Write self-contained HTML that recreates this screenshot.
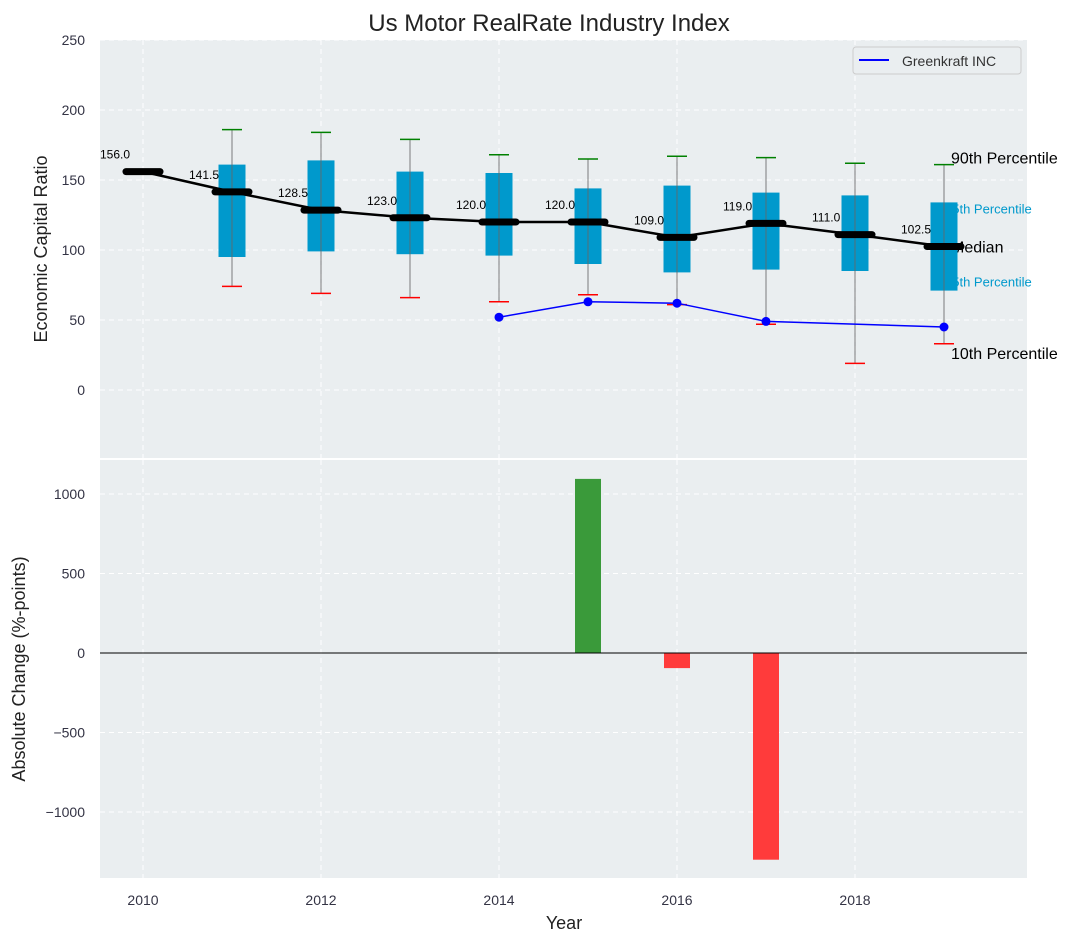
<!DOCTYPE html>
<html><head><meta charset="utf-8"><style>
body{margin:0;background:#fff;}
svg text{font-family:"Liberation Sans","DejaVu Sans",sans-serif;}
</style></head><body>
<svg id="c" width="1085" height="942" xmlns="http://www.w3.org/2000/svg">
<text x="549" y="31" font-size="24" text-anchor="middle" fill="#222">Us Motor RealRate Industry Index</text>
<rect x="100" y="40" width="927" height="418" fill="#eaeef0"/>
<rect x="100" y="460" width="927" height="418" fill="#eaeef0"/>
<g id="gtop"></g><g id="gbot"></g>
<text x="564" y="929" font-size="18" text-anchor="middle" fill="#222">Year</text>
<text transform="translate(47,249) rotate(-90)" font-size="18" text-anchor="middle" fill="#222">Economic Capital Ratio</text>
<text transform="translate(25,669) rotate(-90)" font-size="18" text-anchor="middle" fill="#222">Absolute Change (%-points)</text>
<g>
<rect x="853" y="47" width="168" height="27" rx="3" fill="#eaeef0" stroke="#ccc"/>
<line x1="859" y1="60" x2="889" y2="60" stroke="#0000ff" stroke-width="2"/>
<text x="902" y="66" font-size="14" fill="#333">Greenkraft INC</text>
</g>
</svg>
<script>
const years=[2010,2011,2012,2013,2014,2015,2016,2017,2018,2019];
const medians=[156,141.5,128.5,123,120,120,109,119,111,102.5];
const q1=[null,95,99,97,96,90,84,86,85,71];
const q3=[null,161,164,156,155,144,146,141,139,134];
const p10=[null,74,69,66,63,68,61,47,19,33];
const p90=[null,186,184,179,168,165,167,166,162,161];
const gkYears=[2014,2015,2016,2017,2019];
const gkVals=[52,63,62,49,45];
const chgYears=[2015,2016,2017];
const chgVals=[1095,-95,-1300];
const topTicks=[0,50,100,150,200,250];
const botTicks=[-1000,-500,0,500,1000];
const xTicks=[2010,2012,2014,2016,2018];
const NS='http://www.w3.org/2000/svg';
const X=y=>143+(y-2010)*89;
const YT=v=>390-v*1.4;
const YB=v=>653-v*0.159;
function mk(p,t,a){const e=document.createElementNS(NS,t);for(const k in a)e.setAttribute(k,a[k]);p.appendChild(e);return e;}
const gT=document.getElementById('gtop'),gB=document.getElementById('gbot');
xTicks.forEach(t=>{[[40,458,gT],[460,878,gB]].forEach(([a,b,g])=>{const l=mk(g,'line',{x1:X(t),x2:X(t),y1:a,y2:b,stroke:'#fff','stroke-dasharray':'5,4'});

});
const tx=mk(gB,'text',{x:X(t),y:905,'font-size':14,'text-anchor':'middle',fill:'#334'});tx.textContent=t;

});
topTicks.forEach(t=>{const l=mk(gT,'line',{x1:100,x2:1027,y1:YT(t),y2:YT(t),stroke:'#fff','stroke-dasharray':'5,4'});


const tx=mk(gT,'text',{x:85,y:YT(t)+5,'font-size':14,'text-anchor':'end',fill:'#334'});tx.textContent=t;

});
botTicks.forEach(t=>{const l=mk(gB,'line',{x1:100,x2:1027,y1:YB(t),y2:YB(t),stroke:'#fff','stroke-dasharray':'5,4'});


const tx=mk(gB,'text',{x:85,y:YB(t)+5,'font-size':14,'text-anchor':'end',fill:'#334'});tx.textContent=t<0?'\u2212'+(-t):t;

});
const L=years.length-1,ax=X(years[L])+7;
[[p90[L],'90th Percentile',16,'#000',-1,0],[q3[L],'75th Percentile',13,'#0099cc',11,-6],[medians[L],'Median',16,'#000',6,0],[q1[L],'25th Percentile',13,'#0099cc',-4,-6],[p10[L],'10th Percentile',16,'#000',15,0]].forEach(([v,s,f,c,o,dx])=>{const t=mk(gT,'text',{x:ax+dx,y:YT(v)+o,'font-size':f,fill:c});t.textContent=s;

});
years.forEach((y,i)=>{if(q1[i]==null)return;const x=X(y);
const b=mk(gT,'rect',{x:x-13.5,y:YT(q3[i]),width:27,height:YT(q1[i])-YT(q3[i]),fill:'#0099cc'});


const w=mk(gT,'line',{x1:x,x2:x,y1:YT(p90[i]),y2:YT(p10[i]),stroke:'#666','stroke-opacity':0.7,'stroke-width':1.2});


const h=mk(gT,'line',{x1:x-10,x2:x+10,y1:YT(p90[i]),y2:YT(p90[i]),stroke:'green','stroke-width':1.5});


const lo=mk(gT,'line',{x1:x-10,x2:x+10,y1:YT(p10[i]),y2:YT(p10[i]),stroke:'red','stroke-width':1.5});

});
const ml=mk(gT,'polyline',{points:years.map((y,i)=>X(y)+','+YT(medians[i])).join(' '),fill:'none',stroke:'#000','stroke-width':2.5});


years.forEach((y,i)=>{const x=X(y),yy=YT(medians[i]);
const m=mk(gT,'line',{x1:x-17,x2:x+17,y1:yy,y2:yy,stroke:'#000','stroke-width':7,'stroke-linecap':'round'});


const t=mk(gT,'text',{x:x-43,y:yy-13,'font-size':12,fill:'#000'});t.textContent=medians[i].toFixed(1);

});
const gl=mk(gT,'polyline',{points:gkYears.map((y,i)=>X(y)+','+YT(gkVals[i])).join(' '),fill:'none',stroke:'#0000ff','stroke-width':1.5});


gkYears.forEach((y,i)=>{const c=mk(gT,'circle',{cx:X(y),cy:YT(gkVals[i]),r:4.5,fill:'#0000ff'});

});
chgYears.forEach((y,i)=>{const v=chgVals[i];const r=mk(gB,'rect',{x:X(y)-13,y:Math.min(YB(v),YB(0)),width:26,height:Math.abs(YB(v)-YB(0)),fill:v>=0?'#3a9a3a':'#ff3b3b'});

});
const z=mk(gB,'line',{x1:100,x2:1027,y1:YB(0),y2:YB(0),stroke:'#000','stroke-width':1});


</script>
</body></html>
